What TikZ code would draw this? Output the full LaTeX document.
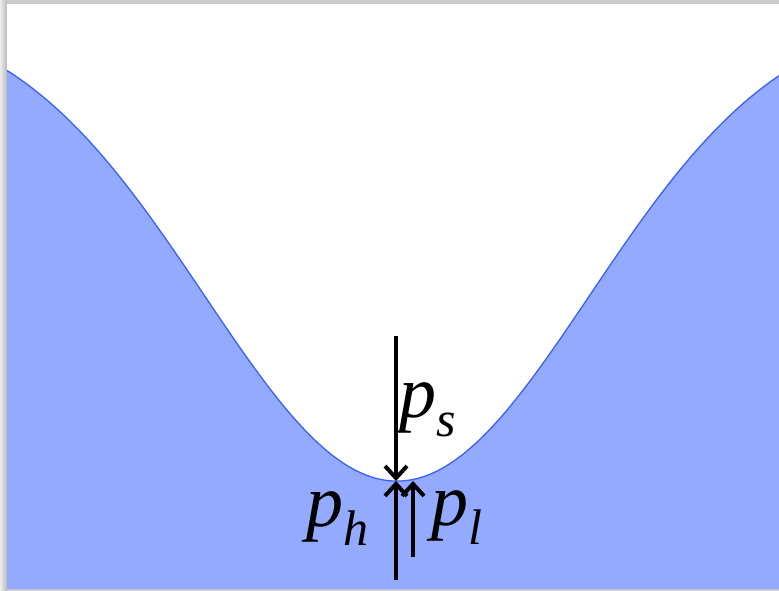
\documentclass[tikz,border=0pt]{standalone}
\usepackage{fontspec}
\setmainfont{Liberation Serif}
\newfontface\tnri{Liberation Serif Italic}
\usetikzlibrary{arrows.meta}
\definecolor{fillblue}{RGB}{148,170,255}
\definecolor{edgeblue}{RGB}{60,95,250}
\tikzset{
  lab/.style={inner sep=0pt, anchor=base west, font=\tnri\fontsize{74}{74}\selectfont},
  force/.style={line width=4pt, draw=black},
  barb/.style={-{Straight Barb[length=12pt,width=22pt]}},
}
\newcommand{\subsc}[1]{\lower19pt\hbox{\tnri\fontsize{50}{50}\selectfont #1}}
\begin{document}
\begin{tikzpicture}[x=1pt,y=-1pt]
\useasboundingbox (0,0) rectangle (779,591);
% shadow frame
\fill[gray!40] (0,0) rectangle (779,591);
\shade[left color=gray!15, right color=gray!55] (0,0) rectangle (7,591);
\fill[white] (7,4) rectangle (779,589);
% blue region
\fill[fillblue] plot[domain=7:779, samples=200] (\x, {10+471*exp(-0.135*((\x-397)/100)^2)}) -- (779,589) -- (7,589) -- cycle;
\draw[edgeblue, line width=1.3pt] plot[domain=7:779, samples=200] (\x, {10+471*exp(-0.135*((\x-397)/100)^2)});
% arrows
\coordinate (tip) at (396,481);
\coordinate (pstop) at (396,336);
\coordinate (phbot) at (396,580);
\coordinate (pltip) at (413,481);
\coordinate (plbot) at (413,557);
\draw[force, barb] (pstop) -- (tip);
\draw[force, barb] (phbot) -- (tip);
\draw[force, barb] (plbot) -- (pltip);
% labels
\node[lab] (ps) at (399,417) {p\subsc{s}};
\node[lab] (ph) at (306,526) {p\subsc{h}};
\node[lab] (pl) at (431,525) {p\subsc{l}};
\end{tikzpicture}
\end{document}
